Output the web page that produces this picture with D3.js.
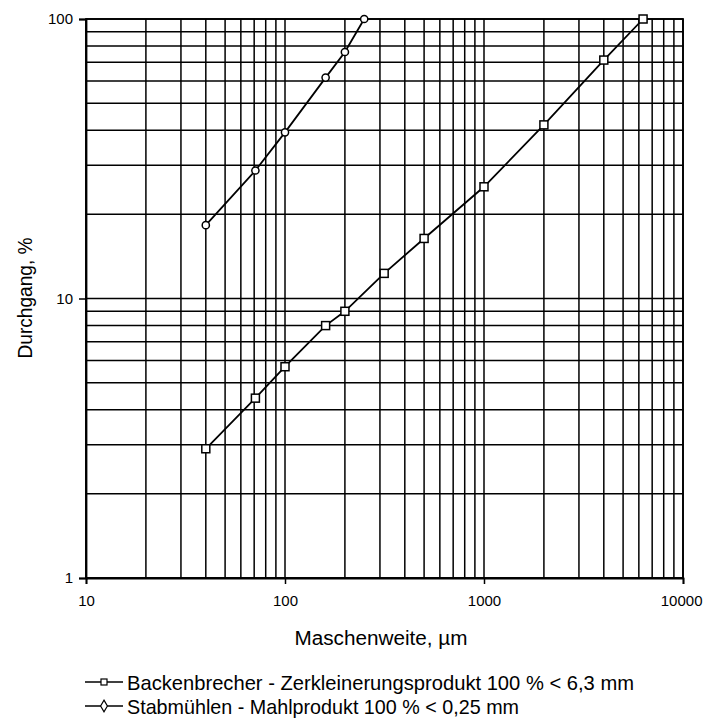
<!DOCTYPE html>
<html>
<head>
<meta charset="utf-8">
<script src="https://cdn.jsdelivr.net/npm/d3@7"></script>
<style>
  html, body { margin: 0; padding: 0; background: #fff; }
  svg { display: block; }
  text { font-family: "Liberation Sans", Arial, Helvetica, sans-serif; fill: #000; }
</style>
</head>
<body>
<svg id="chart" width="704" height="723"></svg>
<script>
// ---- data ----
const sizesBacken = [40, 71, 100, 160, 200, 315, 500, 1000, 2000, 4000, 6300];
const backen      = [2.9, 4.4, 5.7, 8.0, 9.0, 12.3, 16.4, 25.1, 41.8, 71.3, 100];
const sizesStab   = [40, 71, 100, 160, 200, 250];
const stab        = [18.3, 28.7, 39.3, 61.7, 76.2, 100];
const xTickLabels = [10, 100, 1000, 10000];
const yTickLabels = [1, 10, 100];
const seriesNames = [
  "Backenbrecher - Zerkleinerungsprodukt 100 % < 6,3 mm",
  "Stabmühlen - Mahlprodukt 100 % < 0,25 mm"
];
const xTitle = "Maschenweite,  µm";
const yTitle = "Durchgang, %";

// ---- layout ----
const svg = d3.select("#chart");
const L = 86, R = 683, T = 19, B = 578;
const x = d3.scaleLog().domain([10, 10000]).range([L, R]);
const y = d3.scaleLog().domain([1, 100]).range([B, T]);

// grid
const grid = svg.append("g").attr("stroke", "#000").attr("stroke-width", 1.5).attr("fill", "none");
grid.selectAll("line.gx").data(x.ticks()).join("line")
  .attr("x1", d => x(d)).attr("x2", d => x(d)).attr("y1", T).attr("y2", B);
grid.selectAll("line.gy").data(y.ticks()).join("line")
  .attr("x1", L).attr("x2", R).attr("y1", d => y(d)).attr("y2", d => y(d));
svg.append("rect").attr("x", L).attr("y", T).attr("width", R - L).attr("height", B - T)
  .attr("fill", "none").attr("stroke", "#000").attr("stroke-width", 1.8);

// axes
const xAxis = d3.axisBottom(x).tickValues(xTickLabels).tickFormat(d3.format("d")).tickSize(6).tickPadding(11);
const gx = svg.append("g").attr("transform", `translate(0,${B})`).call(xAxis);
const yAxis = d3.axisLeft(y).tickValues(yTickLabels).tickFormat(d3.format("d")).tickSize(7).tickPadding(6);
const gy = svg.append("g").attr("transform", `translate(${L},0)`).call(yAxis);
[gx, gy].forEach(g => {
  g.attr("font-size", 16).attr("font-family", "'Liberation Sans', Arial, sans-serif");
  g.select(".domain").attr("stroke", "#000").attr("stroke-width", 1.8);
  g.selectAll(".tick line").attr("stroke", "#000").attr("stroke-width", 1.5);
  g.selectAll(".tick text").attr("fill", "#000").style("font-size", "15px");
});
gx.selectAll(".tick text").filter(d => d === 10000).attr("text-anchor", "end").attr("dx", 19);

// titles
svg.append("text").attr("x", 381).attr("y", 645).attr("text-anchor", "middle")
  .attr("font-size", 20).attr("textLength", 173).attr("lengthAdjust", "spacingAndGlyphs").text(xTitle);
svg.append("text").attr("transform", "translate(32,298) rotate(-90)").attr("text-anchor", "middle")
  .attr("font-size", 20).attr("textLength", 121).attr("lengthAdjust", "spacingAndGlyphs").text(yTitle);

// lines
const line = d3.line().x(d => x(d[0])).y(d => y(d[1]));
const dataB = sizesBacken.map((s, i) => [s, backen[i]]);
const dataS = sizesStab.map((s, i) => [s, stab[i]]);
svg.append("path").datum(dataB).attr("d", line).attr("fill", "none").attr("stroke", "#000").attr("stroke-width", 1.8);
svg.append("path").datum(dataS).attr("d", line).attr("fill", "none").attr("stroke", "#000").attr("stroke-width", 1.8);

svg.append("g").selectAll("rect").data(dataB).join("rect")
  .attr("x", d => x(d[0]) - 4).attr("y", d => y(d[1]) - 4).attr("width", 8).attr("height", 8)
  .attr("fill", "#fff").attr("stroke", "#000").attr("stroke-width", 1.5);
svg.append("g").selectAll("circle").data(dataS).join("circle")
  .attr("cx", d => x(d[0])).attr("cy", d => y(d[1])).attr("r", 3.6)
  .attr("fill", "#fff").attr("stroke", "#000").attr("stroke-width", 1.5);

// legend
const legRows = [
  { y: 682, sym: "square", len: 507 },
  { y: 706, sym: "diamond", len: 392 }
];
legRows.forEach((r, i) => {
  const g = svg.append("g");
  g.append("line").attr("x1", 85).attr("x2", 123).attr("y1", r.y).attr("y2", r.y)
    .attr("stroke", "#000").attr("stroke-width", 1.4);
  if (r.sym === "square") {
    g.append("rect").attr("x", 101).attr("y", r.y - 3).attr("width", 6).attr("height", 6)
      .attr("fill", "#fff").attr("stroke", "#000").attr("stroke-width", 1.2);
  } else {
    g.append("path").attr("d", d3.symbol(d3.symbolDiamond, 40)()).attr("transform", `translate(104,${r.y})`)
      .attr("fill", "#fff").attr("stroke", "#000").attr("stroke-width", 1.2);
  }
  g.append("text").attr("x", 127).attr("y", r.y + 8).attr("font-size", 21)
    .attr("textLength", r.len).attr("lengthAdjust", "spacingAndGlyphs").text(seriesNames[i]);
});
</script>
</body>
</html>
